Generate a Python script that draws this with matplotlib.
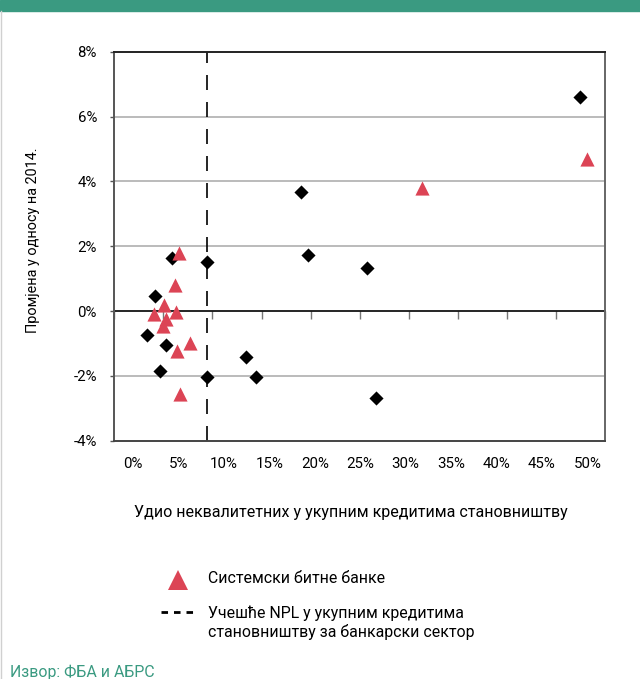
import matplotlib
matplotlib.use("Agg")
import matplotlib.pyplot as plt
from matplotlib.lines import Line2D

plt.rcParams['font.family'] = ['Roboto', 'DejaVu Sans']

# NPL share in household loans (%) vs change relative to 2014 (%)
other_npl = [47.45, 19.0, 19.78, 25.77, 5.9, 9.4, 4.15, 3.38, 5.27, 4.64, 9.4, 13.47, 14.45, 26.65]
other_chg = [6.59, 3.67, 1.72, 1.34, 1.64, 1.50, 0.46, -0.75, -1.04, -1.86, -2.02, -1.42, -2.02, -2.68]

sib_npl = [48.15, 31.4, 6.63, 6.18, 5.08, 6.32, 4.06, 5.29, 4.95, 7.72, 6.37, 6.72]
sib_chg = [4.70, 3.80, 1.78, 0.80, 0.18, -0.02, -0.10, -0.25, -0.46, -0.98, -1.22, -2.57]

sector_npl = 9.45

xtick_labels = ["0%", "5%", "10%", "15%", "20%", "25%", "30%", "35%", "40%", "45%", "50%"]
ytick_vals = [-4, -2, 0, 2, 4, 6, 8]
ytick_labels = ["-4%", "-2%", "0%", "2%", "4%", "6%", "8%"]

title_x = "Удио неквалитетних у укупним кредитима становништву"
title_y = "Промјена у односу на 2014."
legend_sib = "Системски битне банке"
legend_sector = "Учешће NPL у укупним кредитима\nстановништву за банкарски сектор"
source = "Извор: ФБА и АБРС"

RED = "#dc4455"
GREEN = "#3a9a81"

W, H = 640, 679
fig = plt.figure(figsize=(W / 100, H / 100), dpi=100)

# header band and page edge
fig.patches.append(plt.Rectangle((0, 1 - 11 / H), 1, 11 / H, transform=fig.transFigure,
                                 color=GREEN, zorder=0))
fig.add_artist(Line2D([0.5 / W, 0.5 / W], [0, 1 - 11 / H], transform=fig.transFigure,
                      color="#d0d0d0", lw=1))

left, right, top, bottom = 114.3, 605, 51.7, 440.7
ax = fig.add_axes([left / W, 1 - bottom / H, (right - left) / W, (bottom - top) / H])
ax.set_xlim(0, 50)
ax.set_ylim(-4, 8)

for y in [-2, 2, 4, 6]:
    ax.axhline(y, color="#a8a8a8", lw=1.1, zorder=1)

ax.axvline(sector_npl, color="black", lw=1.2, dashes=(9, 7.2), zorder=2)

ax.scatter(other_npl, other_chg, marker="D", s=7.2 ** 2, color="black", zorder=4, linewidths=0)
ax.scatter(sib_npl, sib_chg, marker="^", s=10.2 ** 2, color=RED, zorder=5, linewidths=0)

# frame
for side, col in [("left", "#555555"), ("right", "#666666"), ("top", "#222222"), ("bottom", "#444444")]:
    ax.spines[side].set_color(col)
    ax.spines[side].set_linewidth(1.4)

# y axis
ax.set_yticks(ytick_vals, labels=ytick_labels)
ax.tick_params(axis="y", length=3, width=1, color="#555555", pad=9.5, labelsize=10.8)

# x axis labels sit a little right of the tick marks
label_pos = [1.9 + i * 4.63 for i in range(len(xtick_labels))]
ax.set_xticks(label_pos, labels=xtick_labels)
ax.tick_params(axis="x", length=0, pad=11.5, labelsize=10.8)

# zero line carrying the x tick marks
zero = ax.secondary_xaxis((0 - (-4)) / 12)
zero.set_xticks(list(range(0, 55, 5)), labels=[])
zero.tick_params(axis="x", direction="out", length=6, width=1, color="#777777")
zero.spines["bottom"].set_color("black")
zero.spines["bottom"].set_linewidth(1.2)

fig.text(350.5 / W, 1 - 512.7 / H, title_x, ha="center", va="center", fontsize=11.5)
fig.text(33 / W, 1 - 240 / H, title_y, ha="center", va="center", rotation=90, fontsize=10.4)

# legend
fig.add_artist(Line2D([177.7 / W], [1 - 580 / H], marker="^", markersize=15, color=RED,
                      markeredgewidth=0, transform=fig.transFigure))
fig.text(208 / W, 1 - 578.5 / H, legend_sib, ha="left", va="center", fontsize=11.4)
fig.add_artist(Line2D([161 / W, 194 / W], [1 - 611.5 / H] * 2, color="black", lw=2,
                      dashes=(2.35, 2.15), transform=fig.transFigure))
fig.text(208 / W, 1 - 622.5 / H, legend_sector, ha="left", va="center", fontsize=11.4,
         linespacing=1.25)

fig.text(10 / W, 1 - 672 / H, source, ha="left", va="center", fontsize=11.4, color=GREEN)

fig.savefig("out.png", dpi=100)
